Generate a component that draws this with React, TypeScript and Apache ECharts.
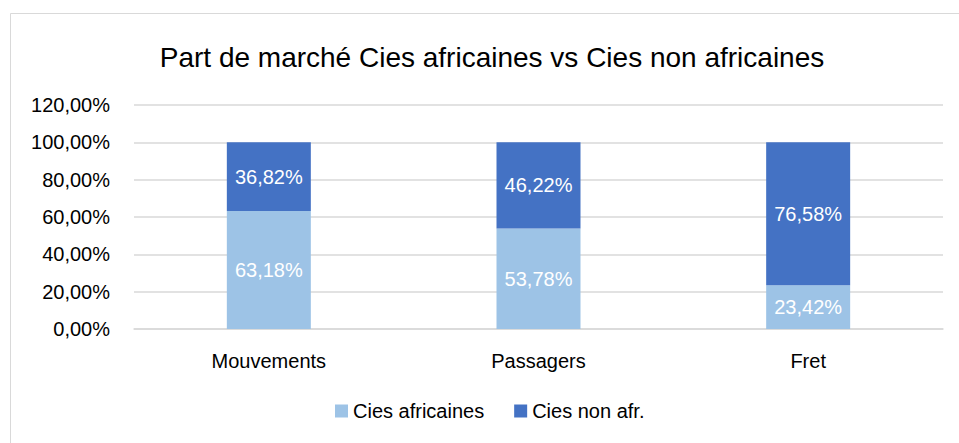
import React, { useEffect, useRef } from "react";
import * as echarts from "echarts";

const titleText = "Part de marché Cies africaines vs Cies non africaines";
const categories = ["Mouvements", "Passagers", "Fret"];
const seriesNames = ["Cies africaines", "Cies non afr."];
const africaines = [63.18, 53.78, 23.42];
const nonAfricaines = [36.82, 46.22, 76.58];
const colors = ["#9DC3E6", "#4472C4"];
const yMin = 0;
const yMax = 120;
const yInterval = 20;

const FONT = "Liberation Sans";
const FS = 20;

const fmt = (v: number) => v.toFixed(2).replace(".", ",") + "%";

export default function App() {
  const ref = useRef<HTMLDivElement>(null);
  useEffect(() => {
    if (!ref.current) return;
    const chart = echarts.init(ref.current, undefined, { renderer: "svg" });
    const labelCfg = {
      show: true,
      position: "inside" as const,
      color: "#FFFFFF",
      fontSize: FS,
      fontFamily: FONT,
      formatter: (p: any) => fmt(p.value),
    };
    chart.setOption({
      animation: false,
      backgroundColor: "#FFFFFF",
      textStyle: { fontFamily: FONT },
      graphic: [
        {
          type: "rect",
          shape: { x: 10.5, y: 13.5, width: 1000, height: 1000 },
          style: { fill: "none", stroke: "#D9D9D9", lineWidth: 1 },
          silent: true,
        },
        {
          type: "text",
          x: 492,
          y: 57,
          style: {
            text: titleText,
            textAlign: "center",
            textVerticalAlign: "middle",
            fontSize: 28,
            fontFamily: FONT,
            fill: "#000000",
          },
          silent: true,
        },
      ],
      legend: {
        data: seriesNames,
        bottom: 17,
        left: 330,
        itemWidth: 13,
        itemHeight: 13,
        itemGap: 30,
        icon: "rect",
        textStyle: { fontSize: FS, color: "#000000", fontFamily: FONT },
      },
      grid: { left: 134, right: 16, top: 105, bottom: 114, containLabel: false },
      xAxis: {
        type: "category",
        data: categories,
        axisLine: { show: true, lineStyle: { color: "#D9D9D9", width: 1.5 } },
        axisTick: { show: false },
        axisLabel: { fontSize: FS, color: "#000000", margin: 22, fontFamily: FONT },
      },
      yAxis: {
        type: "value",
        min: yMin,
        max: yMax,
        interval: yInterval,
        axisLine: { show: false },
        axisTick: { show: false },
        splitLine: { lineStyle: { color: "#D9D9D9", width: 1.5 } },
        axisLabel: {
          fontSize: FS,
          color: "#000000",
          margin: 24,
          fontFamily: FONT,
          formatter: (v: number) => fmt(v),
        },
      },
      series: [
        {
          name: seriesNames[0],
          type: "bar",
          stack: "total",
          data: africaines,
          barWidth: 84,
          itemStyle: { color: colors[0] },
          label: labelCfg,
        },
        {
          name: seriesNames[1],
          type: "bar",
          stack: "total",
          data: nonAfricaines,
          barWidth: 84,
          itemStyle: { color: colors[1] },
          label: labelCfg,
        },
      ],
    });
    return () => chart.dispose();
  }, []);
  return (
    <div
      ref={ref}
      style={{ position: "fixed", left: 0, top: 0, width: 959, height: 443 }}
    />
  );
}
